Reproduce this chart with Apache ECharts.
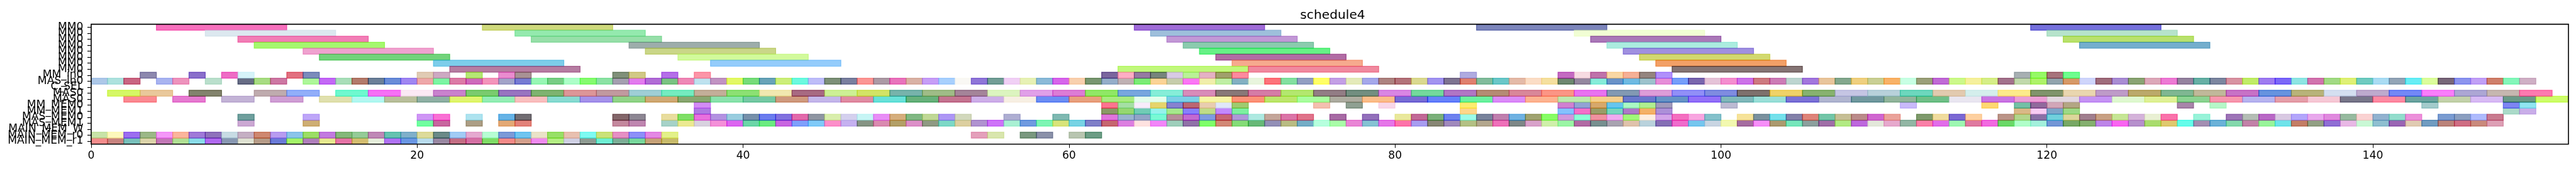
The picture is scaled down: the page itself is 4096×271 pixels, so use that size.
<!DOCTYPE html>
<html><head><meta charset="utf-8">
<style>html,body{margin:0;padding:0;background:#fff}#c{width:4096px;height:271px}</style>
<script src="https://cdn.jsdelivr.net/npm/echarts@6/dist/echarts.min.js"></script>
</head><body><div id="c"></div>
<script>
const chartTitle = 'schedule4';
const laneLabels = ['MM0','MM0','MM0','MM0','MM0','MM0','MM0','MM0','MM_in0','MAS_in0','C_SEL','MAS0','MAS0','MM_MEM0','MM_MEM1','MAS_MEM0','MAS_MEM1','MAIN_MEM_W','MAIN_MEM_r0','MAIN_MEM_r1'];
const xTicks = [0,20,40,60,80,100,120,140];

const mm0aStarts=[4,24,64,85,119];  const mm0aColors=['#f770bd','#cfd97c','#a06cd8','#7c85bb','#7570dc'];
const mm0bStarts=[7,26,65,91,120];  const mm0bColors=['#dce8ef','#94e9ae','#9ebfdb','#f1fed4','#b6e3cb'];
const mm0cStarts=[9,27,66,92,121];  const mm0cColors=['#f27eb6','#97dfa9','#c298d6','#aa78b8','#b9e16d'];
const mm0dStarts=[10,33,67,93,122]; const mm0dColors=['#a5f86f','#9dadab','#8bcbae','#abecdf','#74aecd'];
const mm0eStarts=[13,34,68,94];     const mm0eColors=['#efa2cf','#cad688','#66f186','#a090e0'];
const mm0fStarts=[14,36,69,95];     const mm0fColors=['#72d37b','#d2fa9c','#b16ca4','#d2d96f'];
const mm0gStarts=[21,38,70,96];     const mm0gColors=['#7dcdea','#94ccfb','#f6aa8e','#f2a067'];
const mm0hStarts=[22,63,71,97];     const mm0hColors=['#b67da2','#c1f87c','#f08a9f','#857575'];

const mmInStarts=[3,6,8,9,12,13,20,21,23,25,26,32,33,35,37,
  62,63,64,65,66,67,68,69,70,84,90,91,92,93,94,95,96,118,119,120,121];
const mmInColors=['#8d88ae','#8a6fcb','#ee6cc5','#d6f3f9','#e27080','#7b8bbb','#e0cbb4','#cda9c2','#b5e874','#ea8ccf','#a89294','#80907a','#d1c987','#b56fe8','#fc95a8',
  '#7a669e','#fdadc4','#957aa2','#76857c','#d8cae4','#b9f297','#e4b1c4','#a09f6c','#fc8a9e','#afabe0','#c46bc2','#f7dbe2','#bf73aa','#f9d7a4','#f5b096','#94857f','#b090fb','#a7afb2','#96f95f','#a7737c','#6ffd8f'];

const masInStarts=[0,1,2,4,5,7,9,10,11,
  13,14,15,16,17,18,19,20,21,22,23,24,25,26,27,28,29,30,31,32,
  33,34,35,36,37,38,39,40,41,42,43,44,45,46,47,48,49,50,51,
  52,53,54,55,56,57,58,59,60,61,62,63,64,65,66,67,68,69,70,
  71,72,73,74,75,76,77,78,79,80,81,82,83,84,85,86,87,88,89,90,
  91,92,93,94,95,96,97,98,99,100,101,102,103,104,105,106,107,108,109,
  110,111,112,113,114,115,116,117,118,119,120,121,122,123,124,125,126,127,128,129,130,
  131,132,133,134,135,136,137,138,139,140,141,142,143,144,145,146,147,148,149];
const masInColors=['#adc8e8','#aee2de','#c96683','#a9b4f0','#ed93bd','#badfcc','#676d85','#a8dc83','#cd78a3',
  '#aef79a','#c369f5','#a9deb9','#b37b6c','#6d8099','#6a8cd8','#a087f2','#eea7a9','#7cf5a3','#dc7ba6','#ce6abb','#f395bb','#a2a3c8','#777bd3','#97f7b4','#78cd85','#adfec8','#85fb6f','#8ce2a4','#a49fb0',
  '#e27cee','#b16dd6','#7ac382','#ee88b6','#bee2ef','#c193c2','#e3f863','#77dc7a','#69a4b8','#ccee7a','#6cf9df','#bebdf8','#7d9078','#7a809f','#fb9694','#ac9aa5','#e874bc','#d9b2a5','#c69ef6',
  '#a8d0fd','#f9f8f4','#8f76d8','#739e96','#f0d0f5','#e7f1b5','#8bbad8','#d666ea','#f8d0ae','#799771','#95aec9','#bfb1b3','#7bec76','#fbd497','#c6cdab','#fb76f5','#f0eeab','#bfeea4','#83b1c2',
  '#e8f5dd','#fd737b','#83e0a0','#929fc2','#ffff5f','#c39fe5','#e4eaba','#a5a8ea','#ad8380','#b3737a','#dad990','#a294f0','#7e7491','#e0806e','#82bc9c','#6bc7c8','#e4baa8','#fbddc6','#f5e09f','#6e8870',
  '#94869f','#86ecd9','#6992c8','#6fbae2','#9dc2cc','#e68ed8','#779efa','#7a66ae','#e5c3d8','#f48ecf','#cc73e8','#cd7a80','#cc7cb6','#bdd5d0','#a277dd','#e8c59c','#84a88e','#efd080','#c9cf95',
  '#f8b268','#c8ffe4','#9ba07a','#c06bd5','#ccf88a','#f5f09d','#d6ee88','#a3738c','#c1d9ab','#aef36a','#91a4ad','#d79968','#cfd5fb','#9f6d7c','#a98dd3','#8aa474','#dca8b9','#ec7bd4','#95839f','#67b0a5','#7d87a0',
  '#d893a2','#c0ec68','#9e7cf0','#7c68f8','#8ee5e3','#d174ae','#a2da85','#dff076','#70cbc0','#aadcf3','#93a5b7','#68edf5','#dcfd9c','#79677a','#8c94ee','#c1a0f6','#cf806c','#84f7ba','#cfb0c5'];

const mas0aStarts=[1,3,6,10,12,15,17,19,21,23,25,27,29,31,
  33,35,37,39,41,43,45,47,49,51,
  53,55,57,59,61,63,65,67,69,
  71,73,75,77,79,81,83,85,87,89,
  91,93,95,97,99,101,103,105,107,109,
  111,113,115,117,119,121,123,125,127,129,
  131,133,135,137,139,141,143,145,147,149];
const mas0aColors=['#d5f765','#e9c89b','#82836d','#bfabae','#91aef9','#6ff8cf','#f670f5','#fbe9f4','#c982cd','#7acb6f','#9874c0','#7eb370','#dc9698','#c1999f',
  '#9fced5','#75ebc0','#c3ae99','#8ce074','#f1e8b0','#a76a82','#cdf095','#d3e366','#77b3ab','#9fbc87',
  '#a48499','#dcf4c0','#e0a0e8','#dc7cd5','#90e765','#78a6de','#86edd8','#d88cb9','#887878',
  '#d57ca6','#b3e76f','#927d85','#728e80','#d986e3','#74d99c','#b176c4','#b58b74','#d98799','#fb9585',
  '#e873f0','#8299b3','#dd9dd8','#918ff7','#7f8ce0','#7e716d','#efd268','#87b26f','#c5c5e3','#b8d1da',
  '#6dd7bd','#e2caaf','#d4eeec','#fcea8b','#80946c','#e9d6b0','#be9bc8','#bba96b','#7fb792','#c0b89a',
  '#c772c6','#6493df','#b8b37a','#d4dff0','#beaacd','#7388f6','#f97efa','#aca6d4','#c6b7b0','#fc7ab0'];

const mas0bStarts=[2,5,8,11,14,16,18,20,22,24,26,28,30,32,
  34,36,38,40,42,44,46,48,50,
  52,54,56,58,60,62,64,66,68,70,
  72,74,76,78,80,82,84,86,88,90,
  92,94,96,98,100,102,104,106,108,
  110,112,114,116,118,120,122,124,126,128,130,
  132,134,136,138,140,142,144,146,148,150];
const mas0bColors=['#fb8a92','#e67ad0','#c3b3d6','#cf9ed4','#e0e0ae','#b2f7f0','#b9bf9c','#8fb0a4','#e0f56e','#94edb5','#f9bebe','#88dbd1','#a592ea','#91d388',
  '#cfa974','#89a771','#8ae2ac','#76c9a4','#cf9a7e','#c4b6ea','#e08ca2','#68e1d9','#67b17b',
  '#c47490','#cdaee8','#f7efe3','#6b8df4','#e8a07e','#a8ea80','#e3fdec','#7dcfe6','#f6f5a6','#fc9278',
  '#bce66c','#a9fd9f','#adaca0','#fbbd8a','#776cd5','#6581fb','#6bf09f','#db8bf8','#fdb391','#bee8ae',
  '#f4cf8d','#6a78cc','#6693c6','#9370f8','#80b8ba','#9adfd8','#7b72d6','#b0b5d0','#71999f',
  '#92b59c','#70bf88','#e9e6f0','#ca76e3','#eb9fd5','#e2d7df','#c593f4','#dff8d0','#dff096','#8cd392','#f797ae',
  '#b6b3ef','#e59ea9','#f6c8d5','#78778a','#fd8aa2','#6ca4a0','#c3d1aa','#d7baf4','#6a9a88','#cdfd6a'];

const mmMem0Starts=[37,62,63,64,65,66,67,68,69,70,75,77,79,84,90,91,92,93,94,95,96,100,111,116,118,119,120,121,128,130,143,148,149];
const mmMem0Colors=['#d28cf5','#fd748f','#a5dfa5','#f8ecfb','#e6d46d','#8782d0','#bc6572','#e8cdb0','#e0e7f9','#9fcb70','#f4bfb0','#8fa092','#f9d7e8','#fdec70','#d080d0','#92a2d4','#d6a86c','#66c5ee','#aaf9c4','#b0ef90','#a09abc','#bcbad2','#c9bafa','#fed872','#74c0a6','#906a9c','#d2a6b8','#b3a684','#a885a9','#b6f7c8','#a3cbcb','#7e85f3','#90e5f0'];

const mmMem1Starts=[37,62,63,64,65,66,67,68,69,70,84,90,91,92,93,94,95,96,118,119,120,121,148,149];
const mmMem1Colors=['#ae7ae2','#8a9a67','#95d770','#70cbb5','#96f2ec','#a6e98c','#8780fc','#c0dc88','#c289fc','#7df0a0','#fdd68c','#84c2fd','#f46fc9','#999d68','#76d6be','#ae78c8','#f4b168','#ac90d8','#dab887','#f8ccf2','#7da5c9','#9dd986','#abdac8','#c9aee8'];

const masMem0Starts=[9,13,20,21,23,25,26,32,
  33,35,36,37,38,39,40,41,42,43,44,45,46,47,48,49,50,51,
  52,53,56,59,62,63,64,65,66,67,68,69,70,
  71,72,73,74,76,78,80,81,82,83,84,85,86,87,88,89,90,
  91,92,93,94,95,96,97,98,99,101,102,103,104,105,106,107,108,109,
  110,112,113,114,115,117,118,119,120,121,122,123,124,125,126,127,129,
  131,132,133,134,135,136,137,138,139,140,141,142,144,145,146,147];
const masMem0Colors=['#6f9f9d','#bea6f8','#cf96f5','#f970d4','#aee3ef','#66b3e6','#716d72','#83666a',
  '#8d8793','#e8dd9e','#7fdf62','#e970dd','#b392e1','#99cddf','#7690aa','#6b7cee','#8171df','#e26aab','#8f96a2','#d9eeac','#d4d0ee','#c7f5f5','#e88ef6','#d5ae7d','#80b883','#c0d896',
  '#ae97f5','#d2d8bc','#aeaed2','#7fb9b2','#e074dc','#99b3ce','#92a4c6','#79f9d4','#b68e9a','#c36ad0','#7f9be2','#c76574','#af98d8',
  '#aee9e1','#c4a69a','#db75a8','#e0738a','#a76aa4','#9370bb','#e9e89c','#c26997','#7bb07a','#6e82ef','#9bfbe9','#78839c','#c07fae','#6fb2e2','#a0a370','#87fd60','#d199dc',
  '#8bfed6','#f0919f','#efaaf0','#a0f878','#fdeee0','#d3a5e9','#f46fc0','#f8a6e0','#84c1cb','#f6e39a','#7a919e','#75e1ec','#8380a9','#de847a','#73c6a8','#c6bf96','#bb8b8a','#d060d0',
  '#eaa29a','#7e9a6c','#f0dc9e','#7b68d3','#fdd0a0','#bb9488','#b2d68c','#8a70a5','#70d0dc','#ddd69c','#a17f8f','#c8a184','#c6e696','#d4b3da','#e9f0d4','#fa72ab','#98f3d9',
  '#9d74b7','#b4bdb5','#b968c6','#d9c9e2','#b3a6fb','#e8a8ec','#e08ade','#97ba9f','#fad2d2','#92b2cf','#93ddcc','#ec90da','#7a9cd1','#8b9fc0','#aebbfd','#c97a8f'];

const masMem1Starts=[9,13,20,21,23,25,26,32,
  33,35,36,37,38,39,40,41,42,43,44,45,46,47,48,49,50,51,
  52,53,54,55,56,57,58,59,60,61,62,63,64,65,66,67,68,69,70,
  71,72,73,74,75,76,77,78,79,80,81,82,83,84,85,86,87,88,89,90,
  91,92,93,94,95,96,97,98,99,100,101,102,103,104,105,106,107,108,109,
  110,111,112,113,114,115,116,117,118,119,120,121,122,123,124,125,126,127,128,129,130,
  131,132,133,134,135,136,137,138,139,140,141,142,143,144,145,146,147];
const masMem1Colors=['#cba8d3','#ceae74','#70fea0','#c8679f','#ac9e85','#e3a976','#e2827a','#c4899e',
  '#bf87b0','#a6d2c8','#ebe992','#d8d2df','#f490d8','#dc62f0','#6cd6a8','#6ceb80','#c864e0','#7fa0fb','#80caf8','#fc8fc9','#c5b1f0','#869484','#da8bb0','#b3a068','#dc90c8','#8f9a84',
  '#7dd8c6','#dccfa0','#b093d0','#ce74f8','#a9f0d3','#709ae0','#7ef5b4','#d8e47a','#78d3e4','#8080c8','#c66770','#dc80e0','#fee2e0','#f285f8','#9ecebb','#9073a8','#7ffe6a','#d28976','#85dc78',
  '#68b978','#9390b7','#b9bc84','#74adc6','#b7ffde','#a9fca8','#e986d5','#86c2d3','#e577e8','#fd73a9','#a79df0','#888775','#a18abc','#b3c084','#b3a78e','#ee71b9','#7e8887','#d8a2ca','#cfefab','#9af5a5',
  '#b26ba4','#779090','#a8a3b0','#dfc2ac','#b9d2dc','#8570b5','#ef6dcc','#76c6ee','#c9d5e2','#f2f8b0','#a56da0','#f68ff8','#ac9a6f','#76e6bb','#8ca09e','#a06fa7','#b2ea84','#bd69dd','#e3e8da',
  '#e6a9cd','#92b6a4','#fa80a8','#e16de9','#9ef7b2','#df7aa0','#f16be0','#6bd868','#b0fec9','#a3f0dc','#7496d6','#78a864','#85b070','#bd85e8','#f962f1','#b690cc','#a9dc6e','#dfc96f','#65fcea','#a38eb2','#6cb2d8',
  '#84d8ac','#c282a8','#98f49a','#6fe3ea','#c37e66','#92a084','#8f6fd4','#e8b8e5','#c9f8d5','#8fbfd0','#9a65b4','#e0cbb2','#719cc0','#bb837a','#cf6e84','#c98a7c','#dda0b5'];

const mainR0Starts=[0,1,2,3,4,5,6,7,8,9,10,11,12,13,14,15,16,17,18,19,20,21,22,23,24,25,26,27,28,29,30,31,32,33,34,35,54,55,57,58,60,61];
const mainR0Colors=['#c8e3a8','#fdf8bc','#9c6ef0','#9cb888','#f498f8','#fbb59c','#a07ad8','#8f72bb','#c8dce4','#c5afc3','#ce8870','#b89cf0','#8cc4ea','#9cde60',
  '#c27ae0','#85b87a','#95cb98','#bf89b6','#66c3b0','#80b0ca','#dddb9b','#6b8a88','#a2ccf5','#e5aad0','#b8fdd4','#7c9ad8','#70c5f0','#eae3c8','#98e068','#e8c0b0','#7ffaf2','#cbe27a','#e690c4',
  '#8e90f8','#e488e4','#e3f18a','#e4a0bb','#d9e6ae','#7a987f','#8b91a9','#b8c5b0','#6d9d85'];

const mainR1Starts=[0,1,2,3,4,5,6,7,8,9,10,11,12,13,14,15,16,17,18,19,20,21,22,23,24,25,26,27,28,29,30,31,32,33,34,35];
const mainR1Colors=['#f48c8c','#c8837f','#78c0bb','#dcd4aa','#c278b6','#b0e094','#8adce8','#b069f0','#8898b2','#dfe2d2','#b69c88','#6a7ad8','#a4f468','#b07ebc',
  '#e6e98e','#e673a6','#d4bd70','#e5eedb','#b072f4','#6a96e4','#b9dcee','#9a88a2','#c46e84','#d570a4','#7fdc64','#f48a88','#d5a08c','#f08af0','#b4ee84','#cfd0e4','#8f9b92','#6eefd4','#7cae96',
  '#78d89c','#c6a278','#c8bb6c'];

// lane index, cell length, starts, visible colours
const lanes=[[0,8,mm0aStarts,mm0aColors],[1,8,mm0bStarts,mm0bColors],[2,8,mm0cStarts,mm0cColors],[3,8,mm0dStarts,mm0dColors],
  [4,8,mm0eStarts,mm0eColors],[5,8,mm0fStarts,mm0fColors],[6,8,mm0gStarts,mm0gColors],[7,8,mm0hStarts,mm0hColors],
  [19,1,mainR1Starts,mainR1Colors],[18,1,mainR0Starts,mainR0Colors],[16,1,masMem1Starts,masMem1Colors],[15,1,masMem0Starts,masMem0Colors],
  [14,1,mmMem1Starts,mmMem1Colors],[13,1,mmMem0Starts,mmMem0Colors],[12,2,mas0bStarts,mas0bColors],[11,2,mas0aStarts,mas0aColors],
  [9,1,masInStarts,masInColors],[8,1,mmInStarts,mmInColors]];

const cells=[], cellColors=[];
lanes.forEach(([lane,span,starts,colors])=>{
  starts.forEach((s,i)=>{
    cells.push([s,s+span,lane,cellColors.length]);
    cellColors.push(colors[i]||'#cccccc');
  });
});

const ALPHA=0.6;
function unblend(hex){
  const v=[1,3,5].map(i=>parseInt(hex.substr(i,2),16));
  const c=v.map(x=>Math.max(0,Math.min(255,Math.round((x-255*(1-ALPHA))/ALPHA))));
  return 'rgb('+c.join(',')+')';
}

const chart=echarts.init(document.getElementById('c'),null,{renderer:'canvas'});
chart.setOption({
  animation:false,
  backgroundColor:'#fff',
  title:{text:chartTitle,left:2114,top:10,textAlign:'center',
    textStyle:{fontFamily:'DejaVu Sans',fontSize:20.2,fontWeight:'normal',color:'#000'}},
  grid:{left:145,right:12,top:38.6,bottom:41.2,show:true,z:5,borderColor:'#000',borderWidth:1.6,backgroundColor:'transparent'},
  xAxis:{type:'value',min:0,max:152,
    axisLine:{show:false},splitLine:{show:false},
    axisTick:{show:true,length:6,customValues:xTicks,lineStyle:{color:'#000',width:1}},
    axisLabel:{show:true,margin:10,fontFamily:'DejaVu Sans',fontSize:17.2,color:'#000',customValues:xTicks,hideOverlap:false}},
  yAxis:{type:'category',inverse:true,data:laneLabels,
    axisLine:{show:false},splitLine:{show:false},
    axisTick:{show:true,length:6,alignWithLabel:true,interval:0,lineStyle:{color:'#000',width:1.2}},
    axisLabel:{show:true,interval:0,margin:12.5,fontFamily:'DejaVu Sans',fontSize:17.2,color:'#000',hideOverlap:false}},
  series:[{
    type:'custom',silent:true,clip:true,
    encode:{x:[0,1],y:2},
    data:cells,
    renderItem:function(params,api){
      const p0=api.coord([api.value(0),api.value(2)]);
      const p1=api.coord([api.value(1),api.value(2)]);
      const h=api.size([0,1])[1];
      const col=unblend(cellColors[api.value(3)]);
      return {type:'rect',
        shape:{x:p0[0],y:p0[1]-h/2,width:p1[0]-p0[0],height:h},
        style:{fill:col,stroke:col,lineWidth:1.24,opacity:ALPHA}};
    }
  }]
});
</script></body></html>
